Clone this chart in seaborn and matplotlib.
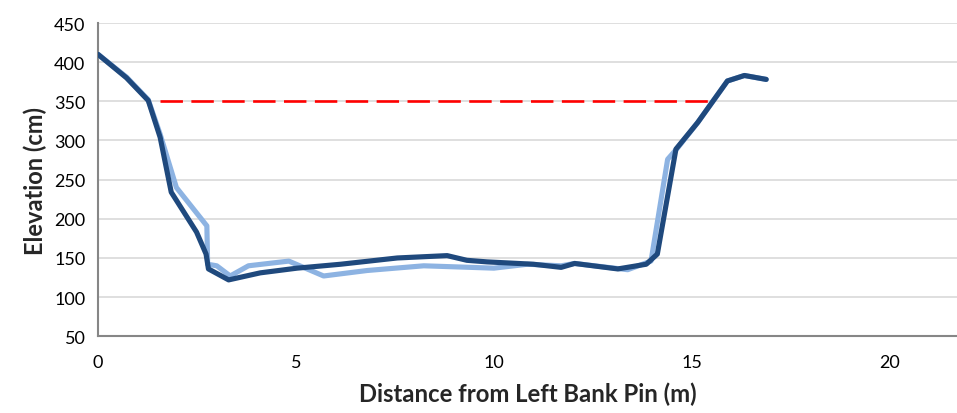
import matplotlib
matplotlib.use("Agg")
import matplotlib.pyplot as plt
import seaborn as sns
import pandas as pd

dark_x = [0, 0.72, 1.27, 1.57, 1.85, 2.49, 2.73, 2.79, 3.3, 4.1, 5.03, 6.13, 7.56, 8.82, 9.32, 9.83,
          11.0, 11.7, 12.04, 13.13, 13.85, 14.13, 14.6, 15.15, 15.9, 16.33, 16.88]
dark_y = [410, 380, 351, 304, 234, 183, 155, 136, 122, 131, 137, 142, 150, 153, 147, 145,
          142, 138, 143, 136, 142, 155, 289, 323, 376, 383, 378]
light_x = [0, 0.72, 1.27, 1.57, 1.98, 2.75, 2.77, 3.0, 3.34, 3.8, 4.82, 5.7, 6.8, 8.23, 10.0, 10.85,
           11.7, 12.04, 13.38, 13.97, 14.39, 14.65, 15.15, 15.9, 16.33, 16.88]
light_y = [410, 381, 352, 308, 240, 191, 142, 140, 127, 140, 146, 127, 134, 140, 137, 142,
           140, 143, 135, 146, 276, 291, 323, 376, 383, 378]
water_x = [1.57, 15.5]
water_y = [350, 350]
x_ticks = [0, 5, 10, 15, 20]
y_ticks = [50, 100, 150, 200, 250, 300, 350, 400, 450]

sns.set_theme(style="white")
plt.rcParams['font.family'] = ['Lato', 'DejaVu Sans']

fig = plt.figure(figsize=(9.57, 4.14), dpi=100)
ax = fig.add_axes([0.1024, 0.1853, 0.8976, 0.7567])

df_light = pd.DataFrame({"x": light_x, "y": light_y})
df_dark = pd.DataFrame({"x": dark_x, "y": dark_y})
df_water = pd.DataFrame({"x": water_x, "y": water_y})

sns.lineplot(data=df_light, x="x", y="y", sort=False, estimator=None, ax=ax,
             color="#8db3e2", linewidth=3.7, solid_joinstyle="round", solid_capstyle="round", zorder=3)
sns.lineplot(data=df_water, x="x", y="y", sort=False, estimator=None, ax=ax,
             color="#ff0000", linewidth=1.9, dashes=False, zorder=2)
ax.lines[-1].set_dashes([8.5, 3.2])
sns.lineplot(data=df_dark, x="x", y="y", sort=False, estimator=None, ax=ax,
             color="#1f497d", linewidth=3.7, solid_joinstyle="round", solid_capstyle="round", zorder=4)

ax.set_xlim(0, 21.7)
ax.set_ylim(50, 450)
ax.set_xticks(x_ticks)
ax.set_yticks(y_ticks)
ax.grid(axis="y", color="#d9d9d9", linewidth=1.2)
ax.grid(axis="x", visible=False)
ax.set_axisbelow(True)
for s in ["top", "right"]:
    ax.spines[s].set_visible(False)
for s in ["left", "bottom"]:
    ax.spines[s].set_color("#868686")
    ax.spines[s].set_linewidth(1.5)
ax.tick_params(axis="both", direction="out", length=5, width=1.2, color="#868686",
               labelsize=13, labelcolor="black", pad=4)
ax.tick_params(axis="x", pad=8)
ax.set_xlabel("Distance from Left Bank Pin (m)", fontsize=17.2, fontweight="bold", labelpad=8)
ax.set_ylabel("Elevation (cm)", fontsize=17, fontweight="bold", labelpad=5)

fig.savefig("out.png", dpi=100)
